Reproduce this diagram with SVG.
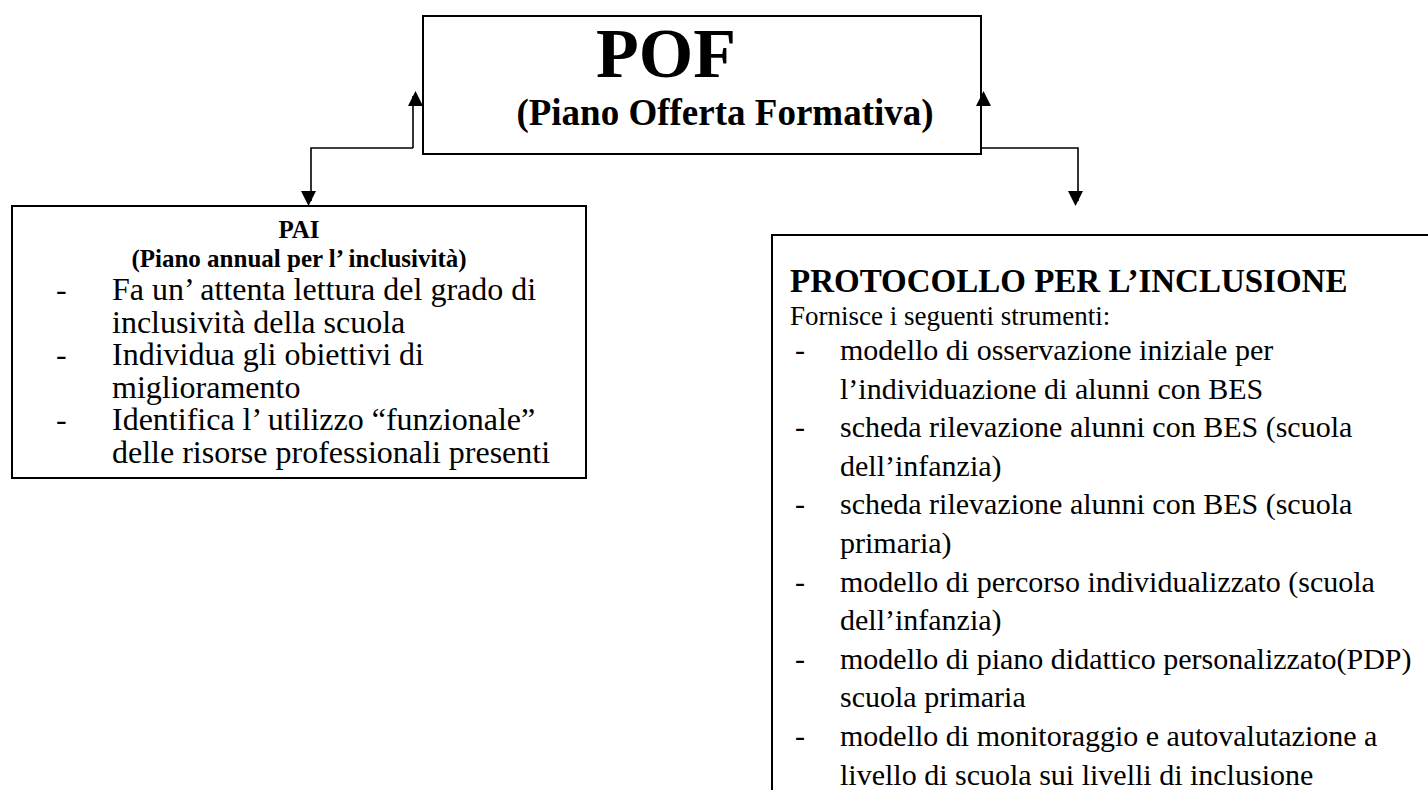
<svg xmlns="http://www.w3.org/2000/svg" width="1428" height="790" viewBox="0 0 1428 790">
<style>
.box{fill:#fff;stroke:#000;stroke-width:2}
.conn{fill:none;stroke:#000;stroke-width:1.6}
.t{font-family:"Liberation Serif","Times New Roman",serif;fill:#000}
.b{font-weight:bold}
</style>
<defs>
<marker id="ah" markerWidth="10" markerHeight="10" viewBox="0 0 10 10" refX="10" refY="5" orient="auto" markerUnits="userSpaceOnUse" style="overflow:visible">
<path d="M0,0 L10,5 L0,10 Z" fill="#000" transform="scale(1.5)"/>
</marker>
</defs>
<rect width="1428" height="790" fill="#fff"/>
<g id="connectors">
<path class="conn" d="M413,148 V96" marker-end="url(#ah)"/>
<path class="conn" d="M413,148 H311 V201" marker-end="url(#ah)"/>
<path class="conn" d="M981,148 H1078 V201" marker-end="url(#ah)"/>
</g>
<g id="pof">
<rect class="box" x="423" y="16" width="558" height="138"/>
<text class="t b" x="666" y="77" font-size="70" text-anchor="middle">POF</text>
<text class="t b" x="725" y="125" font-size="37" text-anchor="middle">(Piano Offerta Formativa)</text>
<path d="M981,148 V96" stroke="#000" stroke-width="2" fill="none" marker-end="url(#ah)"/>
</g>
<g id="pai">
<rect class="box" x="12" y="206" width="574" height="272"/>
<text class="t b" x="299" y="238" font-size="25" text-anchor="middle">PAI</text>
<text class="t b" x="299" y="267" font-size="25" text-anchor="middle">(Piano annual per l’ inclusività)</text>
<g class="t" font-size="32">
<text x="56" y="300">-</text><text x="112" y="300">Fa un’ attenta lettura del grado di</text>
<text x="112" y="332.5">inclusività della scuola</text>
<text x="56" y="365">-</text><text x="112" y="365">Individua gli obiettivi di</text>
<text x="112" y="397.5">miglioramento</text>
<text x="56" y="430">-</text><text x="112" y="430">Identifica l’ utilizzo “funzionale”</text>
<text x="112" y="462.5">delle risorse professionali presenti</text>
</g>
</g>
<g id="protocollo">
<rect class="box" x="772" y="235" width="670" height="570"/>
<text class="t b" x="790" y="292" font-size="33">PROTOCOLLO PER L’INCLUSIONE</text>
<text class="t" x="790" y="325" font-size="27">Fornisce i seguenti strumenti:</text>
<g class="t" font-size="30">
<text x="795" y="360">-</text><text x="840" y="360">modello di osservazione iniziale per</text>
<text x="840" y="398.6">l’individuazione di alunni con BES</text>
<text x="795" y="437.2">-</text><text x="840" y="437.2">scheda rilevazione alunni con BES (scuola</text>
<text x="840" y="475.8">dell’infanzia)</text>
<text x="795" y="514.4">-</text><text x="840" y="514.4">scheda rilevazione alunni con BES (scuola</text>
<text x="840" y="553">primaria)</text>
<text x="795" y="591.6">-</text><text x="840" y="591.6">modello di percorso individualizzato (scuola</text>
<text x="840" y="630.2">dell’infanzia)</text>
<text x="795" y="668.8">-</text><text x="840" y="668.8">modello di piano didattico personalizzato(PDP)</text>
<text x="840" y="707.4">scuola primaria</text>
<text x="795" y="746">-</text><text x="840" y="746">modello di monitoraggio e autovalutazione a</text>
<text x="840" y="784.6">livello di scuola sui livelli di inclusione</text>
</g>
</g>
</svg>
